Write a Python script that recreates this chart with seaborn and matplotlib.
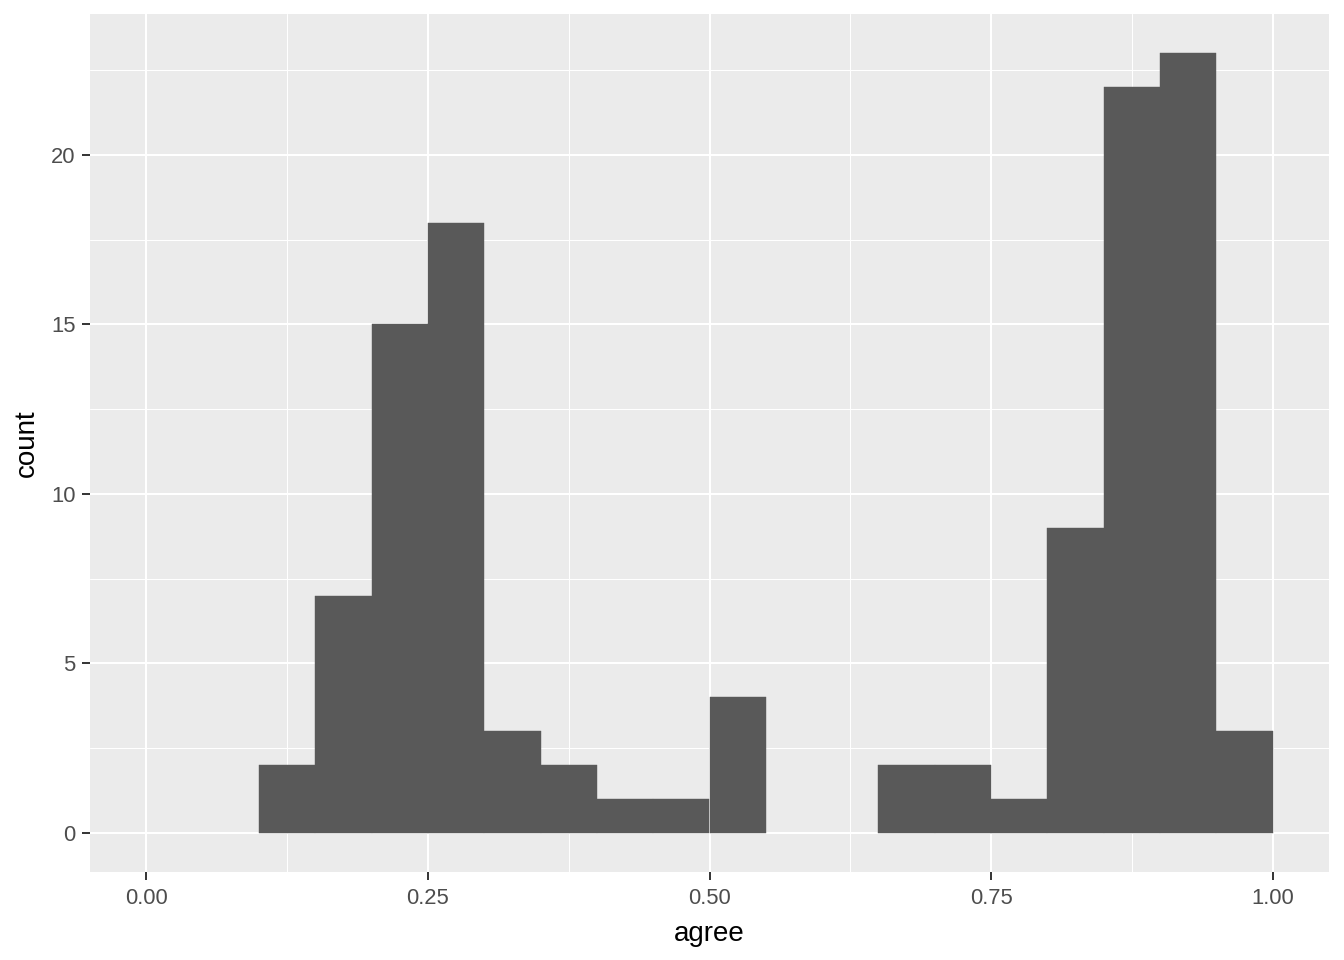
"""ggplot-style histogram of agreement scores."""
import matplotlib
import matplotlib.pyplot as plt
import numpy as np
import seaborn as sns

matplotlib.use("Agg")

# Bin edges (width 0.05) and counts
bin_edges = [0.10, 0.15, 0.20, 0.25, 0.30, 0.35, 0.40, 0.45, 0.50, 0.55,
             0.60, 0.65, 0.70, 0.75, 0.80, 0.85, 0.90, 0.95, 1.00]
counts = [2, 7, 15, 18, 3, 2, 1, 1, 4, 0, 0, 2, 2, 1, 9, 22, 23, 3]
x_ticks = [0.0, 0.25, 0.5, 0.75, 1.0]
x_tick_labels = ["0.00", "0.25", "0.50", "0.75", "1.00"]
y_ticks = [0, 5, 10, 15, 20]

centers = [(a + b) / 2 for a, b in zip(bin_edges[:-1], bin_edges[1:])]

sns.set_style("darkgrid", {"axes.facecolor": "#EBEBEB", "grid.color": "white"})
plt.rcParams.update({
    "font.family": ["Liberation Sans", "DejaVu Sans"],
    "xtick.bottom": True,
    "ytick.left": True,
    "xtick.major.size": 5.8,
    "ytick.major.size": 5.8,
    "xtick.major.width": 1.4,
    "ytick.major.width": 1.4,
    "xtick.color": "#333333",
    "ytick.color": "#333333",
})

fig = plt.figure(figsize=(13.44, 9.6), dpi=100)
ax = fig.add_axes([90 / 1344, 1 - 872 / 960, (1329 - 90) / 1344, (872 - 14) / 960])

sns.histplot(x=centers, weights=counts, bins=bin_edges, ax=ax,
             color="#595959", alpha=1, edgecolor="#595959", linewidth=0.3)
# empty bins should not leave a sliver of edge on the baseline
for patch in ax.patches:
    if patch.get_height() == 0:
        patch.set_linewidth(0)

ax.set_xlim(-0.05, 1.05)
ax.set_ylim(-1.15, 24.15)
ax.set_xticks(x_ticks)
ax.set_xticklabels(x_tick_labels)
ax.set_yticks(y_ticks)
ax.set_xticks([0.125, 0.375, 0.625, 0.875], minor=True)
ax.set_yticks([2.5, 7.5, 12.5, 17.5, 22.5], minor=True)
ax.grid(which="major", color="white", linewidth=1.5)
ax.grid(which="minor", color="white", linewidth=0.75)
ax.set_axisbelow(True)
for s in ax.spines.values():
    s.set_visible(False)

ax.tick_params(axis="x", which="major", labelcolor="#4D4D4D",
               labelsize=15.8, pad=5.5)
ax.tick_params(axis="y", which="major", labelcolor="#4D4D4D",
               labelsize=15.8, pad=4.5)
ax.tick_params(axis="both", which="minor", length=0)
ax.set_xlabel("agree", fontsize=20, color="black", labelpad=9)
ax.set_ylabel("count", fontsize=20, color="black", labelpad=8)

fig.savefig("out.png", dpi=100)
